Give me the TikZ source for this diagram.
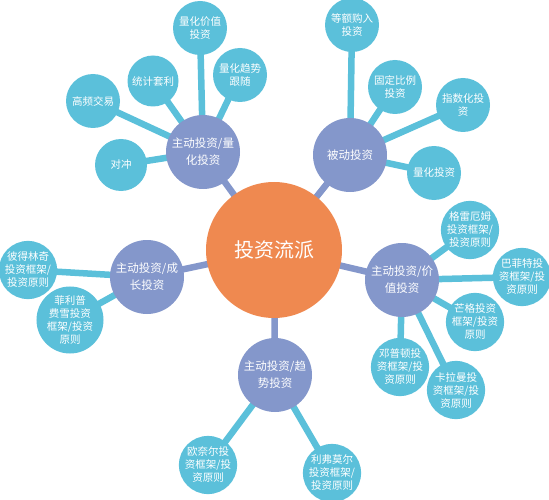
\documentclass[tikz,border=0pt]{standalone}
\usepackage{fontspec}
\setmainfont{Noto Sans CJK SC}
\usetikzlibrary{backgrounds}
\definecolor{corange}{RGB}{239,137,80}
\definecolor{cpurple}{RGB}{132,151,203}
\definecolor{cblue}{RGB}{91,192,218}
\tikzset{
  root/.style={circle,fill=corange,minimum size=136pt,inner sep=0pt,text=white,font=\fontsize{20}{24}\selectfont,align=center},
  mid/.style={circle,fill=cpurple,minimum size=74pt,inner sep=0pt,text=white,font=\fontsize{11.5}{17}\selectfont,align=center},
  leaf/.style={circle,fill=cblue,minimum size=54pt,inner sep=0pt,text=white,font=\fontsize{10.5}{13}\selectfont,align=center},
  leaflow/.style={leaf,font=\fontsize{10.5}{14}\selectfont},
  linkmid/.style={draw=cpurple,line width=6.5pt},
  linkleaf/.style={draw=cblue,line width=6.5pt}
}
\begin{document}
\begin{tikzpicture}[x=1pt,y=-1pt]
\useasboundingbox (0,0) rectangle (549,500);
% root
\node[root] (C) at (274,250) {投资流派};
% mids
\node[mid] (Q) at (203,152) {主动投资/量\\化投资};
\node[mid] (P) at (350,155) {被动投资};
\node[mid] (G) at (147,277) {主动投资/成\\长投资};
\node[mid] (V) at (402,280) {主动投资/价\\值投资};
\node[mid] (T) at (275,375) {主动投资/趋\\势投资};
% leaves of Q
\node[leaf] (q1) at (200,28) {量化价值\\投资};
\node[leaf,minimum size=51pt] (q2) at (153,81) {统计套利};
\node[leaf] (q3) at (240,75) {量化趋势\\跟随};
\node[leaf] (q4) at (93,101) {高频交易};
\node[leaf,minimum size=52pt] (q5) at (121,165) {对冲};
% leaves of P
\node[leaf] (p1) at (352,25) {等额购入\\投资};
\node[leaf] (p2) at (395,87) {固定比例\\投资};
\node[leaf] (p3) at (463,105) {指数化投\\资};
\node[leaf] (p4) at (434,173) {量化投资};
% leaves of G
\node[leaf] (g2) at (70,320) {菲利普\\费雪投资\\框架/投资\\原则};
\node[leaf] (g1) at (28,270) {彼得林奇\\投资框架/\\投资原则};
% leaves of V
\node[leaf] (v1) at (470,230) {格雷厄姆\\投资框架/\\投资原则};
\node[leaf] (v2) at (522,277) {巴菲特投\\资框架/投\\资原则};
\node[leaf,minimum size=51pt] (v3) at (475,322) {芒格投资\\框架/投资\\原则};
\node[leaf] (v4) at (400,367) {邓普顿投\\资框架/投\\资原则};
\node[leaf] (v5) at (456,390) {卡拉曼投\\资框架/投\\资原则};
% leaves of T
\node[leaf,minimum size=52pt] (t1) at (208,465) {欧奈尔投\\资框架/投\\资原则};
\node[leaf] (t2) at (332,473) {利弗莫尔\\投资框架/\\投资原则};
\begin{scope}[on background layer]
\foreach \m in {Q,P,G,V,T} \draw[linkmid] (C.center) -- (\m.center);
\foreach \l in {q1,q2,q3,q4,q5} \draw[linkleaf] (Q.center) -- (\l.center);
\foreach \l in {p1,p2,p3,p4} \draw[linkleaf] (P.center) -- (\l.center);
\foreach \l in {g1,g2} \draw[linkleaf] (G.center) -- (\l.center);
\foreach \l in {v1,v2,v3,v4,v5} \draw[linkleaf] (V.center) -- (\l.center);
\foreach \l in {t1,t2} \draw[linkleaf] (T.center) -- (\l.center);
\end{scope}
\end{tikzpicture}
\end{document}
